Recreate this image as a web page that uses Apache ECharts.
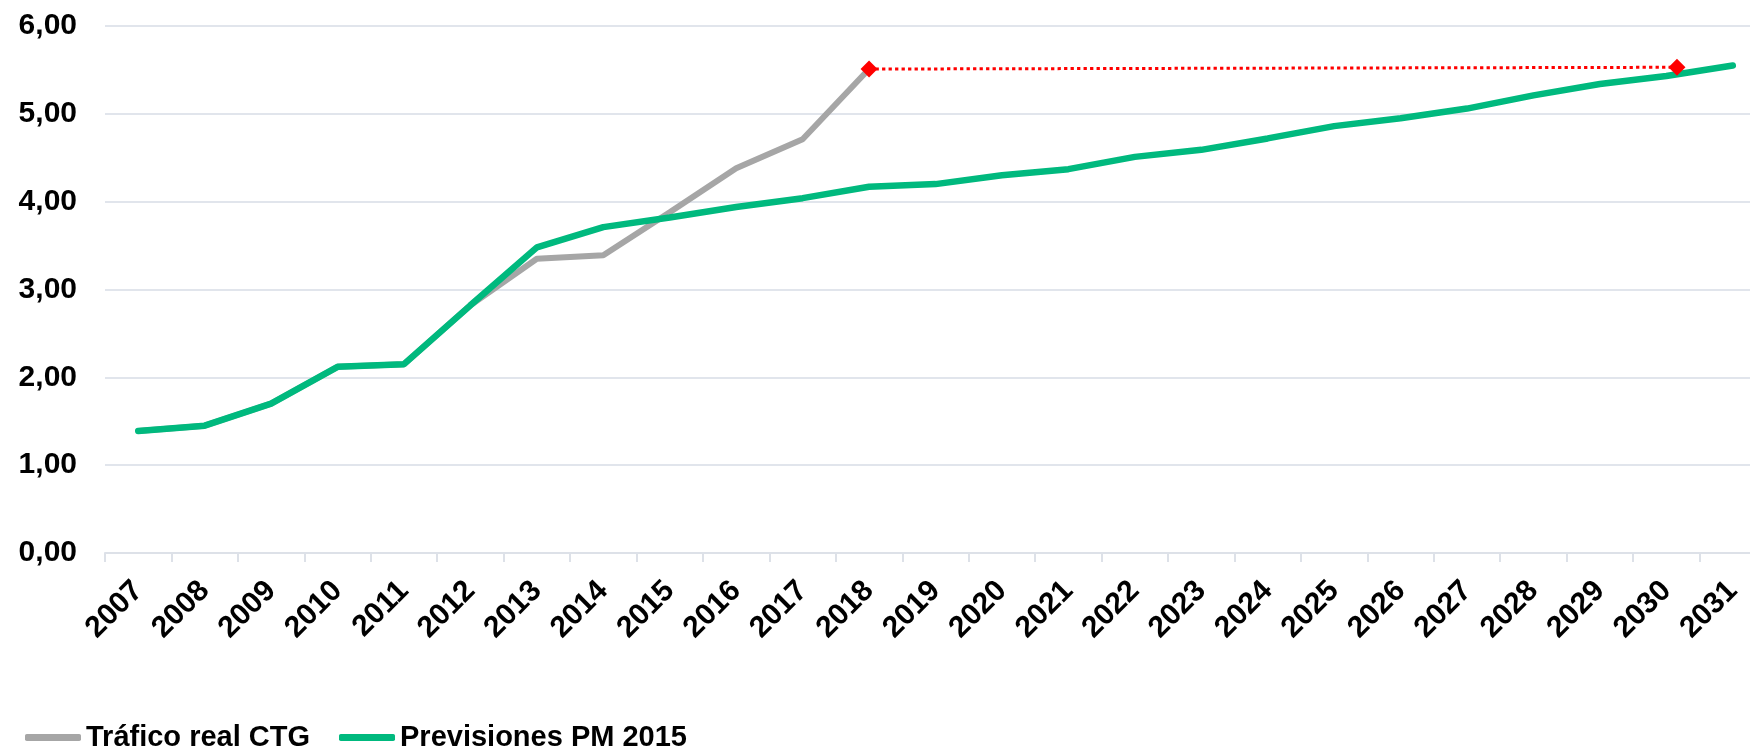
<!DOCTYPE html>
<html>
<head>
<meta charset="utf-8">
<script src="https://cdn.jsdelivr.net/npm/echarts@6/dist/echarts.min.js"></script>
<style>
html,body{margin:0;padding:0;background:#fff;}
#chart{width:1750px;height:750px;}
</style>
</head>
<body>
<div id="chart"></div>
<script>
const years = ['2007','2008','2009','2010','2011','2012','2013','2014','2015','2016','2017','2018','2019','2020','2021','2022','2023','2024','2025','2026','2027','2028','2029','2030','2031'];
const traficoReal = [1.39,1.45,1.70,2.12,2.15,2.82,3.35,3.39,3.88,4.38,4.71,5.51,null,null,null,null,null,null,null,null,null,null,null,null,null];
const previsiones = [1.39,1.45,1.70,2.12,2.15,2.82,3.48,3.71,3.82,3.94,4.04,4.17,4.20,4.30,4.37,4.51,4.59,4.72,4.86,4.95,5.06,5.21,5.34,5.43,5.55];
// red dotted reference: position on the category index scale, value
const refX = [11, 23.16];
const refY = [5.51, 5.53];
const yTicks = [0,1,2,3,4,5,6];

const FONT = '"Liberation Sans", Arial, sans-serif';
const chart = echarts.init(document.getElementById('chart'), null, {renderer:'canvas'});
chart.setOption({
  animation:false,
  backgroundColor:'#ffffff',
  grid:{left:105, right:-16, top:26, bottom:197, containLabel:false, outerBoundsMode:'none'},
  legend:{
    left:20, top:718, itemWidth:56, itemHeight:7, itemGap:29, icon:'roundRect',
    textStyle:{fontFamily:FONT, fontWeight:'bold', fontSize:29, color:'#000'},
    data:['Tráfico real CTG','Previsiones PM 2015']
  },
  xAxis:[{
    type:'category', data:years, boundaryGap:true,
    axisLine:{show:true, lineStyle:{color:'#dde1e8', width:2}},
    axisTick:{show:true, length:9, lineStyle:{color:'#dde1e8', width:2}},
    axisLabel:{interval:0, rotate:45, margin:33, fontFamily:FONT, fontWeight:'bold', fontSize:30, color:'#000'},
    splitLine:{show:false}
  },{
    type:'value', min:-0.5, max:years.length-0.5, show:false
  }],
  yAxis:{
    type:'value', min:yTicks[0], max:yTicks[yTicks.length-1], interval:1,
    axisLine:{show:false}, axisTick:{show:false},
    axisLabel:{margin:28, fontFamily:FONT, fontWeight:'bold', fontSize:30, color:'#000',
      formatter:v=>v.toFixed(2).replace('.',',')},
    splitLine:{lineStyle:{color:'#e1e5ec', width:2}}
  },
  series:[{
    name:'Tráfico real CTG', type:'line', data:traficoReal, xAxisIndex:0,
    symbol:'none', lineStyle:{color:'#a6a6a6', width:6}, itemStyle:{color:'#a6a6a6'}, z:2
  },{
    name:'Previsiones PM 2015', type:'line', data:previsiones, xAxisIndex:0,
    symbol:'none', lineStyle:{color:'#00b97e', width:6.5, cap:'round'}, itemStyle:{color:'#00b97e'}, z:3
  },{
    name:'ref', type:'line', xAxisIndex:1,
    data:refX.map((x,i)=>[x, refY[i]]),
    symbol:'diamond', symbolSize:17, showSymbol:true,
    lineStyle:{color:'#ff0000', width:3, type:[3.3,3.2]}, itemStyle:{color:'#ff0000'}, z:4
  }]
});
</script>
</body>
</html>
